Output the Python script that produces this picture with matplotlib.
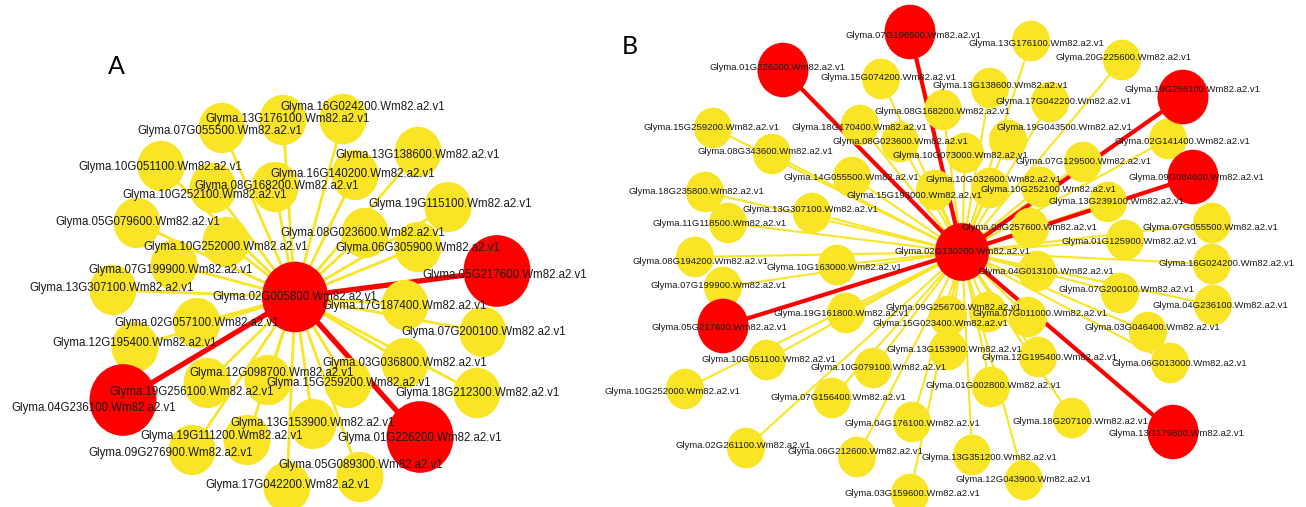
import matplotlib.pyplot as plt
from matplotlib.patches import Ellipse

plt.rcParams['font.family'] = ['Liberation Sans', 'DejaVu Sans']

YELLOW = '#F9E425'
RED = '#FF0000'
TEXT = '#1a1a1a'

# ---- Panel A: hub Glyma.02G005800 ----
a_hub = '02G005800'
a_hub_xy = (295, 297)
a_genes = ['16G024200', '13G176100', '07G055500', '13G138600', '10G051100',
           '16G140200', '08G168200', '10G252100', '19G115100', '05G079600',
           '08G023600', '06G305900', '10G252000', '07G199900', '13G307100',
           '17G187400', '07G200100', '02G057100', '12G195400', '03G036800',
           '12G098700', '04G236100', '15G259200', '18G212300', '13G153900',
           '19G111200', '09G276900', '05G089300', '17G042200',
           '19G256100', '05G217600', '01G226200']
a_red = [0] * 29 + [1, 1, 1]
# layout (pixel positions of nodes and their labels)
a_x = [343, 283, 222, 418, 161, 355, 275, 213, 448, 137, 365, 418, 226, 174, 113,
       405, 483, 197, 135, 405, 268, 207, 348, 477, 313, 247, 192, 360, 287,
       123, 497, 420]
a_y = [119, 120, 128, 152, 166, 175, 187, 188, 207, 223, 233, 247, 242, 265, 290,
       305, 332, 323, 347, 363, 380, 383, 383, 393, 424, 440, 450, 477, 487,
       400, 271, 437]
a_lx = [363, 288, 220, 418, 160, 353, 277, 205, 450, 138, 363, 418, 226, 171, 112,
        405, 484, 197, 135, 405, 272, 94, 349, 477, 313, 222, 171, 361, 288,
        192, 505, 420]
a_ly = [107, 119, 131, 155, 167, 174, 186, 195, 204, 222, 233, 248, 247, 270, 288,
        306, 332, 323, 343, 363, 373, 408, 383, 393, 423, 436, 453, 465, 485,
        392, 275, 438]

# ---- Panel B: hub Glyma.02G130200 ----
b_hub = '02G130200'
b_hub_xy = (962, 252)
b_genes = ['07G196500', '01G226200', '15G074200', '13G176100', '20G225600',
           '13G138600', '08G168200', '17G042200', '19G256100', '15G259200',
           '18G170400', '19G043500', '08G343600', '08G023600', '10G073000',
           '02G141400', '07G129500', '09G084600', '14G055500', '10G032600',
           '10G252100', '15G193000', '18G235800', '13G307100', '13G239100',
           '11G118500', '03G257600', '07G055500', '01G125900', '08G194200',
           '10G163000', '04G013100', '16G024200', '07G199900', '07G200100',
           '04G236100', '09G256700', '19G161800', '07G011000', '15G023400',
           '05G217600', '03G046400', '13G153900', '12G195400', '10G051100',
           '06G013000', '10G079100', '01G002800', '10G252000', '07G156400',
           '18G207100', '13G179600', '04G176100', '02G261100', '06G212600',
           '13G351200', '12G043900', '03G159600']
b_red_genes = ['07G196500', '01G226200', '19G256100', '09G084600', '05G217600', '13G179600']
b_x = [910, 783, 881, 1031, 1122, 990, 943, 1050, 1183, 713, 860, 1008, 772, 900, 965,
       1168, 1083, 1193, 852, 990, 1040, 935, 705, 812, 1108, 728, 1030, 1212, 1125, 695,
       837, 1037, 1212, 723, 1120, 1213, 988, 846, 1028, 948, 723, 1148, 948, 1038, 767,
       1170, 873, 991, 685, 832, 1072, 1173, 912, 746, 857, 972, 1024, 910]
b_y = [32, 70, 79, 41, 60, 88, 110, 102, 97, 128, 125, 140, 154, 142, 153,
       139, 162, 177, 177, 188, 187, 190, 192, 213, 202, 223, 228, 223, 240, 257,
       265, 271, 264, 287, 293, 305, 312, 313, 317, 316, 326, 332, 350, 357, 360,
       363, 368, 387, 389, 398, 418, 432, 422, 448, 457, 455, 480, 494]
b_lx = [913, 778, 888, 1036, 1123, 1000, 942, 1063, 1192, 712, 859, 1064, 765, 900, 960,
        1182, 1084, 1196, 851, 993, 1048, 914, 696, 810, 1116, 720, 1029, 1210, 1129, 700,
        834, 1046, 1226, 719, 1126, 1220, 953, 841, 1040, 940, 719, 1152, 954, 1049, 769,
        1179, 878, 993, 672, 838, 1080, 1176, 912, 743, 855, 989, 1023, 912]
b_ly = [35, 67, 78, 43, 57, 86, 111, 101, 89, 127, 128, 127, 152, 142, 155,
        142, 162, 178, 177, 180, 189, 195, 192, 210, 201, 223, 228, 227, 241, 262,
        268, 272, 263, 285, 290, 306, 307, 313, 314, 323, 327, 327, 349, 357, 359,
        364, 368, 386, 391, 397, 422, 434, 423, 445, 452, 457, 480, 494]
b_red = [1 if g in b_red_genes else 0 for g in b_genes]


def draw_panel(ax, hub, hub_xy, genes, xs, ys, lxs, lys, red,
               r_yel, r_red, r_hub, lw_yel, lw_red, fs):
    hx, hy = hub_xy
    stretch = 1.07
    order = sorted(range(len(genes)), key=lambda i: red[i])
    for i in order:
        ax.plot([hx, xs[i]], [hy, ys[i]], color=RED if red[i] else YELLOW,
                lw=lw_red if red[i] else lw_yel, zorder=1 + red[i],
                solid_capstyle='butt')
    for i in order:
        r = r_red if red[i] else r_yel
        ax.add_patch(Ellipse((xs[i], ys[i]), 2 * r, 2 * r * stretch,
                             facecolor=RED if red[i] else YELLOW,
                             edgecolor='none', zorder=3 + red[i]))
    ax.add_patch(Ellipse(hub_xy, 2 * r_hub, 2 * r_hub * stretch,
                         facecolor=RED, edgecolor='none', zorder=5))
    for g, lx, ly in zip(genes, lxs, lys):
        ax.text(lx, ly, 'Glyma.' + g + '.Wm82.a2.v1', ha='center', va='center',
                fontsize=fs, color=TEXT, zorder=6)
    ax.text(hx, hy, 'Glyma.' + hub + '.Wm82.a2.v1', ha='center', va='center',
            fontsize=fs, color=TEXT, zorder=6)


fig = plt.figure(figsize=(13.06, 5.07), dpi=100)
ax = fig.add_axes([0, 0, 1, 1])
ax.set_xlim(0, 1306)
ax.set_ylim(507, 0)
ax.axis('off')

draw_panel(ax, a_hub, a_hub_xy, a_genes, a_x, a_y, a_lx, a_ly, a_red,
           r_yel=23.5, r_red=33.5, r_hub=33, lw_yel=2.0, lw_red=3.8, fs=8.3)
draw_panel(ax, b_hub, b_hub_xy, b_genes, b_x, b_y, b_lx, b_ly, b_red,
           r_yel=19, r_red=25.5, r_hub=27, lw_yel=1.5, lw_red=3.0, fs=6.8)

ax.text(116, 66, 'A', fontsize=18, ha='center', va='center', color='black',
        family=['Lato', 'DejaVu Sans'])
ax.text(630, 46, 'B', fontsize=18, ha='center', va='center', color='black',
        family=['Lato', 'DejaVu Sans'])

fig.savefig('out.png', dpi=100)
